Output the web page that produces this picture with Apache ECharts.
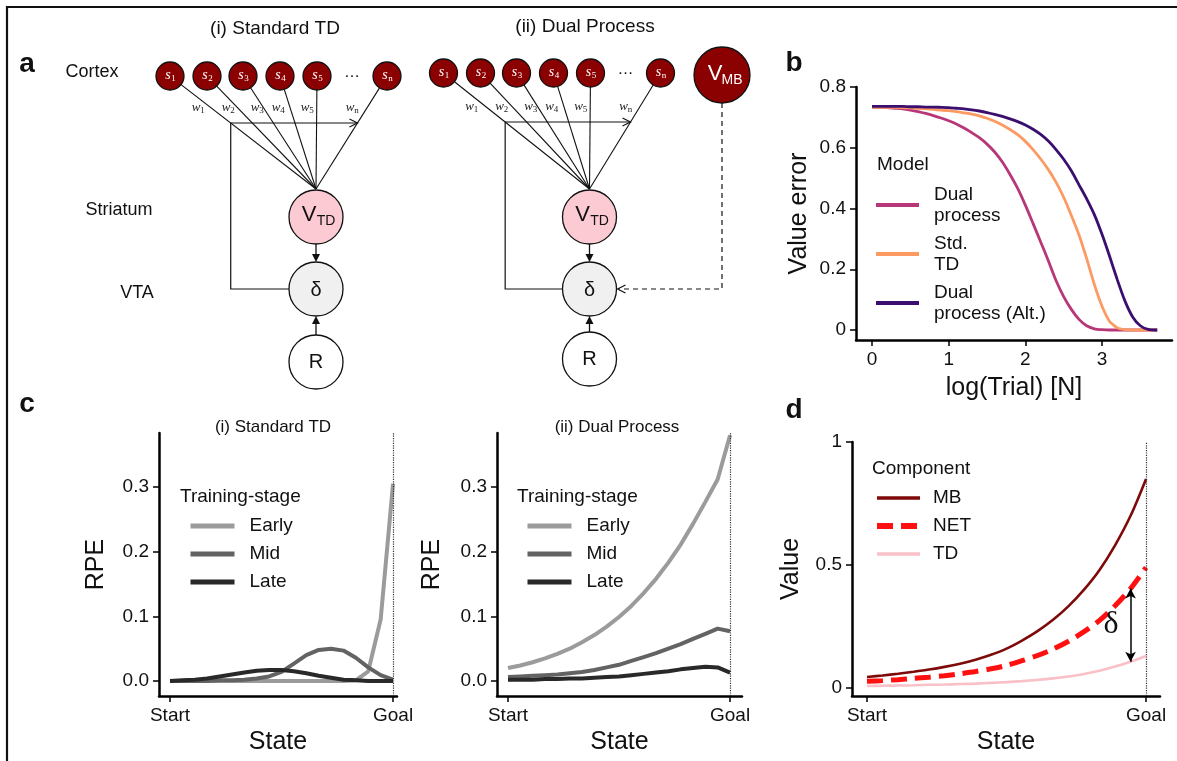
<!DOCTYPE html>
<html>
<head>
<meta charset="utf-8">
<script src="https://cdn.jsdelivr.net/npm/echarts@6/dist/echarts.min.js"></script>
<style>
html,body{margin:0;padding:0;background:#fff}
#chart{width:1177px;height:761px}
</style>
</head>
<body>
<div id="chart"></div>
<script>
// ---- panel b: value error over log(trial)
const trialLog = [0, 0.1, 0.2, 0.3, 0.4, 0.5, 0.6, 0.7, 0.8, 0.9,
  1.0, 1.1, 1.2, 1.3, 1.4, 1.5, 1.6, 1.7, 1.8, 1.9,
  2.0, 2.1, 2.2, 2.3, 2.4, 2.5, 2.6, 2.7, 2.8, 2.9,
  3.0, 3.1, 3.2, 3.3, 3.4, 3.5, 3.6, 3.7, 3.72]
const errDual = [0.733, 0.733, 0.732, 0.730, 0.728, 0.724, 0.719, 0.713, 0.706, 0.698,
  0.689, 0.678, 0.665, 0.650, 0.633, 0.612, 0.586, 0.553, 0.512, 0.466,
  0.411, 0.351, 0.290, 0.228, 0.163, 0.110, 0.068, 0.035, 0.014, 0.004,
  0.001, 0, 0, 0, 0, 0, 0, 0, 0]
const errStd = [0.733, 0.733, 0.733, 0.733, 0.732, 0.731, 0.730, 0.728, 0.726, 0.724,
  0.722, 0.719, 0.715, 0.711, 0.705, 0.697, 0.687, 0.675, 0.660, 0.643,
  0.621, 0.594, 0.563, 0.528, 0.487, 0.437, 0.377, 0.313, 0.235, 0.150,
  0.078, 0.028, 0.007, 0.001, 0, 0, 0, 0, 0]
const errAlt = [0.736, 0.736, 0.736, 0.736, 0.736, 0.735, 0.735, 0.734, 0.734, 0.733,
  0.732, 0.730, 0.728, 0.725, 0.721, 0.716, 0.710, 0.703, 0.695, 0.686,
  0.675, 0.661, 0.644, 0.622, 0.594, 0.562, 0.524, 0.478, 0.432, 0.380,
  0.315, 0.242, 0.165, 0.095, 0.043, 0.014, 0.002, 0, 0]
const modelNames = ['Dual\nprocess', 'Std.\nTD', 'Dual\nprocess (Alt.)']

// ---- panel c: RPE along the track, Start (0) .. Goal (18)
const states = [0, 1, 2, 3, 4, 5, 6, 7, 8, 9, 10, 11, 12, 13, 14, 15, 16, 17, 18]
const stageNames = ['Early', 'Mid', 'Late']
const rpeStdEarly = [0, 0, 0, 0, 0, 0, 0, 0, 0, 0, 0, 0, 0, 0, 0, 0.001, 0.015, 0.095, 0.305]
const rpeStdMid = [0, 0, 0, 0, 0.001, 0.001, 0.002, 0.004, 0.007, 0.014, 0.027, 0.040, 0.048, 0.050, 0.047, 0.036, 0.021, 0.009, 0.002]
const rpeStdLate = [0, 0.001, 0.002, 0.004, 0.007, 0.010, 0.013, 0.016, 0.017, 0.017, 0.015, 0.012, 0.008, 0.005, 0.002, 0.001, 0, 0, 0]
const rpeDualEarly = [0.020, 0.024, 0.029, 0.035, 0.042, 0.050, 0.060, 0.071, 0.084, 0.099, 0.116, 0.136, 0.158, 0.183, 0.211, 0.243, 0.277, 0.312, 0.380]
const rpeDualMid = [0.006, 0.007, 0.008, 0.009, 0.010, 0.012, 0.014, 0.017, 0.021, 0.025, 0.031, 0.037, 0.043, 0.050, 0.057, 0.065, 0.073, 0.081, 0.077]
const rpeDualLate = [0.002, 0.002, 0.002, 0.003, 0.003, 0.004, 0.004, 0.005, 0.006, 0.007, 0.009, 0.011, 0.013, 0.015, 0.018, 0.020, 0.022, 0.021, 0.013]

// ---- panel d: value components along the track
const compNames = ['MB', 'NET', 'TD']
const valMB = [0.045, 0.051, 0.058, 0.066, 0.075, 0.086, 0.099, 0.115, 0.135, 0.160, 0.193, 0.231, 0.277, 0.333, 0.400, 0.480, 0.580, 0.700, 0.850]
const valNET = [0.027, 0.030, 0.034, 0.039, 0.044, 0.050, 0.058, 0.067, 0.078, 0.092, 0.111, 0.132, 0.158, 0.190, 0.229, 0.275, 0.334, 0.404, 0.490]
const valTD = [0.008, 0.009, 0.010, 0.011, 0.013, 0.014, 0.016, 0.018, 0.021, 0.024, 0.028, 0.033, 0.039, 0.047, 0.057, 0.070, 0.087, 0.107, 0.130]
const deltaState = 17

const FONT = '"Liberation Sans", Arial, sans-serif'
const SERIF = '"Liberation Serif", "DejaVu Serif", serif'

function pairs(xs, ys) {
  return xs.map((x, i) => [x, ys[i]])
}

function axis(grid, min, max, ticks, fmt, name, gap) {
  return {
    type: 'value', gridIndex: grid, min: min, max: max,
    name: name, nameLocation: 'middle', nameGap: gap,
    nameTextStyle: { fontSize: 25, color: '#111', fontFamily: FONT },
    axisLine: { show: true, onZero: false, lineStyle: { color: '#000', width: 2.5 } },
    axisTick: { show: true, customValues: ticks, length: 6, lineStyle: { color: '#000', width: 1.5 } },
    axisLabel: { customValues: ticks, formatter: fmt, fontSize: 19, color: '#111', margin: 10, fontFamily: FONT },
    splitLine: { show: false }
  }
}
const stateFmt = v => (v === 0 ? 'Start' : 'Goal')

function line(name, grid, data, color, width, extra) {
  return Object.assign({
    type: 'line', name: name, xAxisIndex: grid, yAxisIndex: grid, data: data,
    showSymbol: false, symbol: 'none', lineStyle: { color: color, width: width }, itemStyle: { color: color }
  }, extra || {})
}

const goalLine = {
  silent: true, symbol: 'none', label: { show: false },
  lineStyle: { type: 'dotted', color: '#333', width: 1.2 },
  data: [{ xAxis: 18 }]
}

// ---- diagram helpers (panel a)
function txt(x, y, s, font, fill, align) {
  return { type: 'text', x: x, y: y, silent: true,
    style: { text: s, font: font, fill: fill || '#111', textAlign: align || 'center', textVerticalAlign: 'middle' } }
}
function ln(x1, y1, x2, y2, w, dash) {
  return { type: 'line', silent: true, shape: { x1: x1, y1: y1, x2: x2, y2: y2 },
    style: { stroke: '#111', lineWidth: w || 1.2, lineDash: dash || null } }
}
function poly(points, w, dash) {
  return { type: 'polyline', silent: true, shape: { points: points },
    style: { stroke: '#111', lineWidth: w || 1.2, fill: null, lineDash: dash || null } }
}
function circ(cx, cy, r, fill) {
  return { type: 'circle', silent: true, shape: { cx: cx, cy: cy, r: r },
    style: { fill: fill, stroke: '#111', lineWidth: 1.3 } }
}
function tri(x, y, dir) {
  // filled arrowhead with its tip at (x, y); dir = 1 down, -1 up
  return { type: 'polygon', silent: true, shape: { points: [[x, y], [x - 4, y - 8 * dir], [x + 4, y - 8 * dir]] },
    style: { fill: '#111' } }
}

function network(ox, sy, hy, ry, wy, withMB) {
  const els = []
  const cx = 316 + ox
  const apex = [cx, 189]
  const sx = [170, 207, 243, 280, 317, 387].map(v => v + ox)
  const subs = ['1', '2', '3', '4', '5', 'n']
  const wx = [198, 228, 257, 278, 307, 352].map(v => v + ox)
  const at = x => x + (apex[0] - x) * (hy - sy) / (apex[1] - sy)
  const hx1 = at(sx[0]), hx2 = at(sx[5])

  sx.forEach(x => {
    const dx = apex[0] - x, dy = apex[1] - sy, L = Math.hypot(dx, dy)
    els.push(ln(x + dx / L * 14, sy + dy / L * 14, apex[0], apex[1], 1.1))
  })
  // weight update arrow and feedback path from delta
  els.push(poly([[hx2, hy], [hx1, hy], [hx1, 289], [cx - 27, 289]], 1.2))
  els.push(poly([[hx2 - 8, hy - 4], [hx2, hy], [hx2 - 8, hy + 4]], 1.2))

  sx.forEach((x, i) => {
    els.push(circ(x, sy, 14, '#8b0000'))
    els.push(txt(x - 2, sy - 1, 's', 'italic 14px ' + SERIF, '#fff'))
    els.push(txt(x + 3.5, sy + 3, subs[i], '9px ' + SERIF, '#fff'))
  })
  els.push(txt(352 + ox, sy - 3, '…', '16px ' + FONT))
  wx.forEach((x, i) => {
    els.push(txt(x - 2, wy, 'w', 'italic 13px ' + SERIF, '#222'))
    els.push(txt(x + 4.5, wy + 3, subs[i], '9px ' + SERIF, '#222'))
  })

  els.push(circ(cx, 217, 27, '#fccad2'))
  els.push(txt(cx - 7, 215, 'V', '22px ' + FONT))
  els.push(txt(cx + 10, 221, 'TD', '14px ' + FONT))
  els.push(ln(cx, 244, cx, 255, 1.3), tri(cx, 262, 1))
  els.push(circ(cx, 289, 27, '#f0f0f0'))
  els.push(txt(cx, 290, 'δ', '20px ' + FONT))
  els.push(circ(cx, ry, 27, '#fff'))
  els.push(txt(cx, ry, 'R', '20px ' + FONT))
  els.push(ln(cx, ry - 27, cx, 324, 1.3), tri(cx, 316, -1))

  if (withMB) {
    const mx = 722, my = 75
    els.push(poly([[mx, my + 28], [mx, 289], [cx + 29, 289]], 1.2, [5, 4]))
    els.push(poly([[cx + 36, 285], [cx + 28, 289], [cx + 36, 293]], 1.2))
    els.push(circ(mx, my, 28, '#8b0000'))
    els.push(txt(mx - 7, my - 1, 'V', '22px ' + FONT, '#fff'))
    els.push(txt(mx + 10, my + 5, 'MB', '14px ' + FONT, '#fff'))
  }
  return els
}

const graphicEls = [].concat(
  [
    poly([[7, 761], [7, 7], [1177, 7]], 2.2),
    txt(27, 64, 'a', 'bold 28px ' + FONT),
    txt(794, 63, 'b', 'bold 28px ' + FONT),
    txt(27, 404, 'c', 'bold 28px ' + FONT),
    txt(794, 410, 'd', 'bold 28px ' + FONT),
    txt(275, 29, '(i) Standard TD', '19px ' + FONT),
    txt(585, 27, '(ii) Dual Process', '19px ' + FONT),
    txt(92, 72, 'Cortex', '18px ' + FONT),
    txt(119, 210, 'Striatum', '18px ' + FONT),
    txt(137, 293, 'VTA', '18px ' + FONT),
    txt(273, 427, '(i) Standard TD', '17px ' + FONT),
    txt(617, 427, '(ii) Dual Process', '17px ' + FONT),
    txt(877, 165, 'Model', '19px ' + FONT, '#111', 'left'),
    txt(180, 497, 'Training-stage', '19px ' + FONT, '#111', 'left'),
    txt(517, 497, 'Training-stage', '19px ' + FONT, '#111', 'left'),
    txt(872, 469, 'Component', '19px ' + FONT, '#111', 'left'),
    txt(1111, 625, 'δ', '32px ' + SERIF)
  ],
  network(0, 76, 123, 362, 108, false),
  network(273.5, 73, 122, 359, 107, true)
)
graphicEls.forEach(e => {
  e.z = 10
})

// legend icons: just the line, no marker
const legendBase = {
  orient: 'vertical', padding: 0, selectedMode: false, itemHeight: 14,
  itemStyle: { opacity: 0, borderWidth: 0 },
  textStyle: { fontSize: 19, color: '#111', fontFamily: FONT, padding: [0, 0, 0, 10] }
}
const legendItems = (names, widths) => names.map((n, i) => ({ name: n, lineStyle: { width: widths[i] } }))

const option = {
  animation: false,
  backgroundColor: '#fff',
  textStyle: { fontFamily: FONT },
  grid: [
    { left: 856, top: 87, width: 316, height: 253 },
    { left: 159, top: 433, width: 238, height: 263 },
    { left: 497, top: 433, width: 245, height: 263 },
    { left: 852, top: 442, width: 308, height: 254 }
  ],
  xAxis: [
    axis(0, -0.209, 3.913, [0, 1, 2, 3], v => String(v), 'log(Trial) [N]', 36),
    axis(1, -0.888, 18.32, [0, 18], stateFmt, 'State', 34),
    axis(2, -0.892, 18.97, [0, 18], stateFmt, 'State', 34),
    axis(3, -0.968, 18.9, [0, 18], stateFmt, 'State', 34)
  ],
  yAxis: [
    axis(0, -0.0329, 0.8, [0, 0.2, 0.4, 0.6, 0.8], v => (v === 0 ? '0' : v.toFixed(1)), 'Value error', 44),
    axis(1, -0.0232, 0.3835, [0, 0.1, 0.2, 0.3], v => v.toFixed(1), 'RPE', 50),
    axis(2, -0.0232, 0.3835, [0, 0.1, 0.2, 0.3], v => v.toFixed(1), 'RPE', 52),
    axis(3, -0.0325, 1, [0, 0.5, 1], v => String(v), 'Value', 48)
  ],
  legend: [
    Object.assign({}, legendBase, { data: legendItems(modelNames, [4, 4, 4]), left: 874, top: 184, itemWidth: 43, itemGap: 7,
      textStyle: Object.assign({}, legendBase.textStyle, { lineHeight: 21 }) }),
    Object.assign({}, legendBase, { data: legendItems(stageNames, [5, 5, 5]), left: 188, top: 515, itemWidth: 44, itemGap: 6,
      textStyle: Object.assign({}, legendBase.textStyle, { lineHeight: 22 }) }),
    Object.assign({}, legendBase, { data: legendItems(stageNames, [5, 5, 5]), left: 525, top: 515, itemWidth: 44, itemGap: 6,
      textStyle: Object.assign({}, legendBase.textStyle, { lineHeight: 22 }) }),
    Object.assign({}, legendBase, { data: legendItems(compNames, [3.5, 6, 3.5]), left: 874, top: 487, itemWidth: 43, itemGap: 6,
      textStyle: Object.assign({}, legendBase.textStyle, { lineHeight: 22, padding: [0, 0, 0, 8] }) })
  ],
  series: [
    line(modelNames[0], 0, pairs(trialLog, errDual), '#b73779', 2.8, { smooth: 0.2 }),
    line(modelNames[1], 0, pairs(trialLog, errStd), '#fc9a63', 2.8, { smooth: 0.2 }),
    line(modelNames[2], 0, pairs(trialLog, errAlt), '#3b0f70', 2.8, { smooth: 0.2 }),

    line('Early', 1, pairs(states, rpeStdEarly), '#9b9b9b', 4, { markLine: goalLine }),
    line('Mid', 1, pairs(states, rpeStdMid), '#636363', 4),
    line('Late', 1, pairs(states, rpeStdLate), '#292929', 4),

    line('Early', 2, pairs(states, rpeDualEarly), '#9b9b9b', 4, { markLine: goalLine }),
    line('Mid', 2, pairs(states, rpeDualMid), '#636363', 4),
    line('Late', 2, pairs(states, rpeDualLate), '#292929', 4),

    line('MB', 3, pairs(states, valMB), '#7f0a0a', 2.6, { smooth: 0.3, markLine: goalLine }),
    line('NET', 3, pairs(states, valNET), '#ff1010', 5, { smooth: 0.3, lineStyle: { color: '#ff1010', width: 5, type: [16, 8] } }),
    line('TD', 3, pairs(states, valTD), '#f9c0c8', 2.6, {
      smooth: 0.3,
      markLine: {
        silent: true, symbol: ['arrow', 'arrow'], symbolSize: [8, 10], label: { show: false },
        lineStyle: { type: 'solid', color: '#000', width: 1.5 },
        data: [[{ coord: [deltaState, valNET[deltaState]] }, { coord: [deltaState, valTD[deltaState]] }]]
      }
    })
  ],
  graphic: { elements: graphicEls }
}

const chart = echarts.init(document.getElementById('chart'), null, { renderer: 'canvas' })
chart.setOption(option)
</script>
</body>
</html>
